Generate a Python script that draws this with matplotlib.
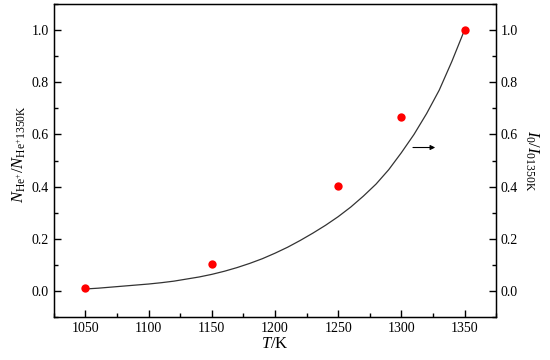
import matplotlib
matplotlib.use("Agg")
import matplotlib.pyplot as plt
from matplotlib.ticker import MultipleLocator

plt.rcParams['font.family'] = ['Liberation Serif', 'DejaVu Serif']
plt.rcParams['mathtext.fontset'] = 'custom'
plt.rcParams['mathtext.rm'] = 'Liberation Serif'
plt.rcParams['mathtext.it'] = 'Liberation Serif:italic'

# measured points
temps = [1050, 1150, 1250, 1300, 1350]
ratio_n = [0.012, 0.103, 0.402, 0.667, 1.0]

# fitted curve
curve_t = [1050, 1060, 1070, 1080, 1090, 1100, 1110, 1120, 1130, 1140,
           1150, 1160, 1170, 1180, 1190, 1200, 1210, 1220, 1230, 1240,
           1250, 1260, 1270, 1280, 1290, 1300, 1310, 1320, 1330, 1340, 1350]
curve_i = [0.008, 0.011, 0.015, 0.019, 0.023, 0.027, 0.032, 0.038, 0.046, 0.054,
           0.064, 0.076, 0.090, 0.106, 0.124, 0.145, 0.168, 0.194, 0.222, 0.252,
           0.285, 0.322, 0.364, 0.410, 0.465, 0.530, 0.600, 0.680, 0.770, 0.880, 1.0]

xticks = [1050, 1100, 1150, 1200, 1250, 1300, 1350]
yticks = [0.0, 0.2, 0.4, 0.6, 0.8, 1.0]

fig = plt.figure(figsize=(5.5, 3.6), dpi=100)
ax = fig.add_axes([0.098, 0.119, 0.804, 0.870])

ax.plot(curve_t, curve_i, color='#333333', lw=0.9)
ax.plot(temps, ratio_n, 'o', color='#ff0000', ms=6, mec='none')

ax.set_xlim(1025, 1375)
ax.set_ylim(-0.1, 1.1)
ax.set_xticks(xticks)
ax.set_yticks(yticks)
ax.set_yticklabels([f'{v:.1f}' for v in yticks])
ax.xaxis.set_minor_locator(MultipleLocator(25))
ax.yaxis.set_minor_locator(MultipleLocator(0.1))
ax.tick_params(which='both', direction='in', top=False, right=False, labelsize=10)
ax.tick_params(which='major', length=5, width=1)
ax.tick_params(which='minor', length=3, width=1)
for s in ax.spines.values():
    s.set_linewidth(1.0)

ax2 = ax.twinx()
ax2.set_ylim(-0.1, 1.1)
ax2.set_yticks(yticks)
ax2.set_yticklabels([f'{v:.1f}' for v in yticks])
ax2.yaxis.set_minor_locator(MultipleLocator(0.1))
ax2.tick_params(which='both', direction='in', labelsize=10)
ax2.tick_params(which='major', length=5, width=1)
ax2.tick_params(which='minor', length=3, width=1)

ax.set_xlabel(r'$\mathit{T}/\mathrm{K}$', fontsize=12, labelpad=1)
ax.set_ylabel(r'$\mathit{N}_{\mathrm{He}^{+}}/\mathit{N}_{\mathrm{He}^{+}1350\mathrm{K}}$', fontsize=12)
ax.yaxis.set_label_coords(-0.058, 0.52)
ax2.set_ylabel(r'$\mathit{I}_{0}/\mathit{I}_{01350\mathrm{K}}$', fontsize=12, rotation=270, labelpad=16)

ax.annotate('', xy=(1329, 0.55), xytext=(1307, 0.55),
            arrowprops=dict(arrowstyle='-|>', color='black', lw=0.8,
                            mutation_scale=7))

fig.savefig('out.png', dpi=100)
